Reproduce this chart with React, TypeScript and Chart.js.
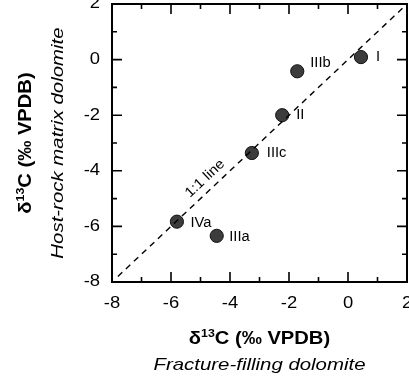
import React, { useEffect, useRef } from "react";
import { Chart, registerables } from "chart.js";

Chart.register(...registerables);

// ---- data ----
const sampleLabels = ["I", "IIIb", "II", "IIIc", "IVa", "IIIa"];
const fractureC = [0.44, -1.72, -2.23, -3.26, -5.8, -4.45]; // x: fracture-filling dolomite
const hostC = [0.09, -0.42, -2.0, -3.36, -5.83, -6.34]; // y: host-rock matrix dolomite
const oneToOneEnds = [-7.8, 2];
const majorTicks = [-8, -6, -4, -2, 0, 2];
const minorTicks = [-7, -5, -3, -1, 1];
const axisMin = -8;
const axisMax = 2;

// label offsets (px) relative to marker centre
const labelOffsets: Record<string, [number, number]> = {
  I: [15, 0],
  IIIb: [13, -8],
  II: [14, 0],
  IIIc: [15, 0],
  IVa: [13.5, 1],
  IIIa: [12.5, 1],
};

const FONT = '"Liberation Sans", Arial, Helvetica, sans-serif';

function txt(
  ctx: CanvasRenderingContext2D,
  s: string,
  x: number,
  y: number,
  font: string,
  align: CanvasTextAlign,
  baseline: CanvasTextBaseline,
  sx = 1
) {
  ctx.save();
  ctx.translate(x, y);
  ctx.scale(sx, 1);
  ctx.font = font;
  ctx.textAlign = align;
  ctx.textBaseline = baseline;
  ctx.fillText(s, 0, 0);
  ctx.restore();
}

function isoTitle(ctx: CanvasRenderingContext2D, cx: number, cy: number, rot: number, sx: number) {
  const big = `bold 18px ${FONT}`;
  const small = `bold 11px ${FONT}`;
  ctx.save();
  ctx.translate(cx, cy);
  ctx.rotate(rot);
  ctx.scale(sx, 1);
  ctx.fillStyle = "#000";
  ctx.textBaseline = "alphabetic";
  ctx.textAlign = "left";
  ctx.font = big;
  const w1 = ctx.measureText("δ").width;
  const w3 = ctx.measureText("C (‰ VPDB)").width;
  ctx.font = small;
  const w2 = ctx.measureText("13").width;
  const total = w1 + w2 + w3;
  let x = -total / 2;
  const base = 6.5;
  ctx.font = big;
  ctx.fillText("δ", x, base);
  x += w1;
  ctx.font = small;
  ctx.fillText("13", x, base - 6.5);
  x += w2;
  ctx.font = big;
  ctx.fillText("C (‰ VPDB)", x, base);
  ctx.restore();
}

const framePlugin = {
  id: "frame",
  afterDatasetsDraw(chart: any) {
    const ctx: CanvasRenderingContext2D = chart.ctx;
    const xs = chart.scales.x;
    const ys = chart.scales.y;
    const { left, right, top, bottom } = chart.chartArea;
    ctx.save();
    ctx.strokeStyle = "#000";
    ctx.fillStyle = "#000";
    // frame
    ctx.lineWidth = 2;
    ctx.strokeRect(left, top, right - left, bottom - top);
    // ticks
    ctx.lineWidth = 1.6;
    const tick = (v: number, len: number) => {
      const px = xs.getPixelForValue(v);
      const py = ys.getPixelForValue(v);
      ctx.beginPath();
      ctx.moveTo(px, bottom);
      ctx.lineTo(px, bottom - len);
      ctx.moveTo(px, top);
      ctx.lineTo(px, top + len);
      ctx.moveTo(left, py);
      ctx.lineTo(left + len, py);
      ctx.moveTo(right, py);
      ctx.lineTo(right - len, py);
      ctx.stroke();
    };
    majorTicks.forEach((v) => tick(v, 10));
    minorTicks.forEach((v) => tick(v, 5));
    // tick labels
    const tf = `16px ${FONT}`;
    majorTicks.forEach((v) => {
      txt(ctx, String(v), xs.getPixelForValue(v), bottom + 22, tf, "center", "middle", 1.15);
      txt(ctx, String(v), left - 12, ys.getPixelForValue(v), tf, "right", "middle", 1.15);
    });
    // axis titles
    const cxPlot = (left + right) / 2;
    const cyPlot = (top + bottom) / 2;
    isoTitle(ctx, cxPlot, bottom + 55, 0, 1.12);
    txt(ctx, "Fracture-filling dolomite", cxPlot, bottom + 88, `italic 17px ${FONT}`, "center", "alphabetic", 1.2);
    isoTitle(ctx, 24, cyPlot, -Math.PI / 2, 1.12);
    ctx.save();
    ctx.translate(58, cyPlot);
    ctx.rotate(-Math.PI / 2);
    txt(ctx, "Host-rock matrix dolomite", 0, 0, `italic 17px ${FONT}`, "center", "middle", 1.2);
    ctx.restore();
    // sample labels
    const meta = chart.getDatasetMeta(1);
    sampleLabels.forEach((lab, i) => {
      const el = meta.data[i];
      const off = labelOffsets[lab] || [13, 0];
      txt(ctx, lab, el.x + off[0], el.y + off[1], `14px ${FONT}`, "left", "middle", 1.05);
    });
    // 1:1 line label
    const x0 = xs.getPixelForValue(axisMin);
    const y0 = ys.getPixelForValue(axisMin);
    const x1 = xs.getPixelForValue(axisMax);
    const y1 = ys.getPixelForValue(axisMax);
    const ang = Math.atan2(y1 - y0, x1 - x0);
    const ax = xs.getPixelForValue(-4.58);
    const ay = ys.getPixelForValue(-4.58);
    ctx.save();
    ctx.translate(ax, ay);
    ctx.rotate(ang);
    txt(ctx, "1:1 line", 0, -11.5, `14px ${FONT}`, "center", "middle", 1.08);
    ctx.restore();
    ctx.restore();
  },
};

export default function App() {
  const ref = useRef<HTMLCanvasElement | null>(null);
  useEffect(() => {
    document.body.style.margin = "0";
    if (!ref.current) return;
    const chart = new Chart(ref.current, {
      type: "scatter",
      data: {
        datasets: [
          {
            type: "line",
            label: "1:1 line",
            data: oneToOneEnds.map((v) => ({ x: v, y: v })),
            borderColor: "#000",
            borderWidth: 1.4,
            borderDash: [6, 5],
            pointRadius: 0,
            fill: false,
          } as any,
          {
            label: "samples",
            data: fractureC.map((x, i) => ({ x, y: hostC[i] })),
            backgroundColor: "#3c3c3c",
            borderColor: "#111",
            borderWidth: 1,
            pointRadius: 6.6,
            pointHoverRadius: 6.6,
          },
        ],
      },
      options: {
        responsive: false,
        animation: false,
        events: [],
        layout: { autoPadding: false, padding: { left: 112, top: 4, right: 2, bottom: 99 } },
        plugins: { legend: { display: false }, tooltip: { enabled: false } },
        scales: {
          x: { type: "linear", min: axisMin, max: axisMax, display: false },
          y: { type: "linear", min: axisMin, max: axisMax, display: false },
        },
      },
      plugins: [framePlugin],
    });
    return () => chart.destroy();
  }, []);
  return (
    <div style={{ position: "absolute", left: 0, top: 0, width: 409, height: 381 }}>
      <canvas ref={ref} width={409} height={381} style={{ display: "block" }} />
    </div>
  );
}
